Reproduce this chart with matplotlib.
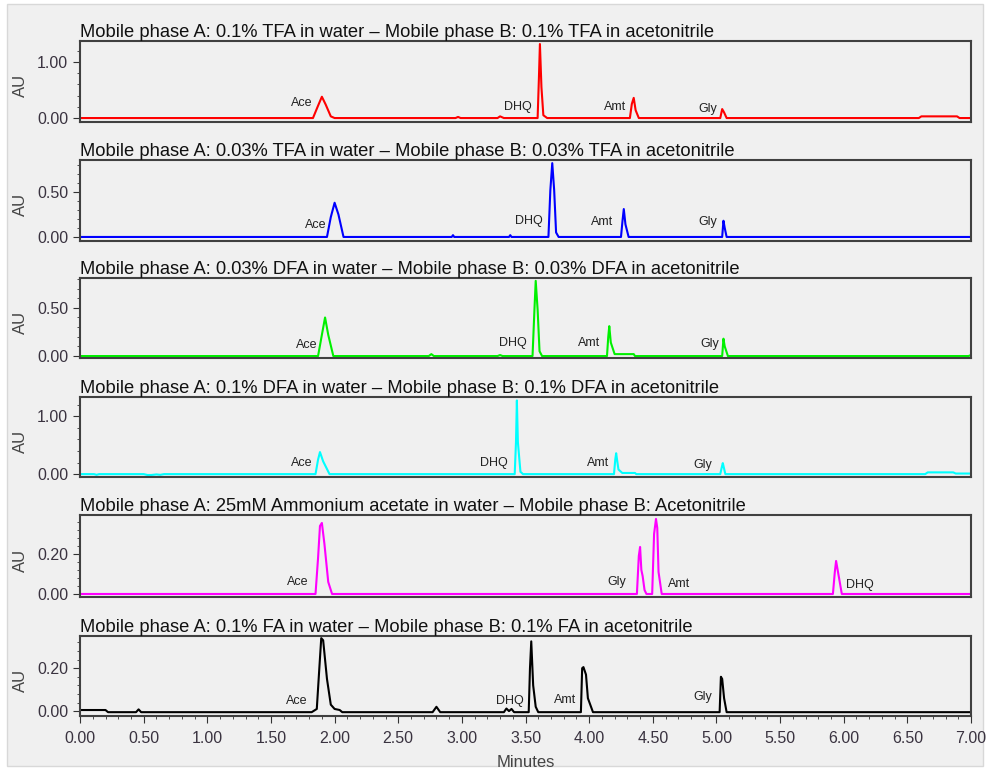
import numpy as np
import matplotlib
matplotlib.use("Agg")
import matplotlib.pyplot as plt
from matplotlib.patches import Rectangle
from matplotlib.ticker import MultipleLocator, FormatStrFormatter

plt.rcParams['font.family'] = ['Liberation Sans', 'DejaVu Sans']

# run conditions (panel titles)
titles = [
    "Mobile phase A: 0.1% TFA in water \u2013 Mobile phase B: 0.1% TFA in acetonitrile",
    "Mobile phase A: 0.03% TFA in water \u2013 Mobile phase B: 0.03% TFA in acetonitrile",
    "Mobile phase A: 0.03% DFA in water \u2013 Mobile phase B: 0.03% DFA in acetonitrile",
    "Mobile phase A: 0.1% DFA in water \u2013 Mobile phase B: 0.1% DFA in acetonitrile",
    "Mobile phase A: 25mM Ammonium acetate in water \u2013 Mobile phase B: Acetonitrile",
    "Mobile phase A: 0.1% FA in water \u2013 Mobile phase B: 0.1% FA in acetonitrile",
]
colors = ['#ff0000', '#0000ff', '#00f000', '#00ffff', '#ff00ff', '#000000']

# traces: retention time (min) / absorbance (AU) vertices
t_tfa01 = [0, 1.83, 1.87, 1.90, 1.93, 1.97, 2.0, 2.95, 2.97, 2.99, 3.28, 3.30, 3.33, 3.595,
           3.605, 3.613, 3.625, 3.64, 3.67, 4.32, 4.335, 4.35, 4.365, 4.39, 5.03, 5.045, 5.06,
           5.08, 6.59, 6.61, 6.89, 6.91, 7.0]
au_tfa01 = [0, 0, 0.22, 0.38, 0.24, 0.03, 0, 0, 0.02, 0, 0, 0.03, 0, 0,
            0.7, 1.32, 0.55, 0.05, 0, 0, 0.25, 0.36, 0.14, 0, 0, 0.16, 0.10,
            0, 0, 0.03, 0.03, 0, 0]

t_tfa003 = [0, 1.94, 1.97, 2.0, 2.03, 2.07, 2.92, 2.93, 2.94, 3.37, 3.38, 3.39, 3.68, 3.695,
            3.71, 3.725, 3.74, 3.76, 4.25, 4.262, 4.272, 4.285, 4.31, 5.045, 5.055, 5.065,
            5.08, 7.0]
au_tfa003 = [0, 0, 0.22, 0.38, 0.25, 0, 0, 0.02, 0, 0, 0.02, 0, 0, 0.52,
             0.82, 0.52, 0.05, 0, 0, 0.18, 0.31, 0.14, 0, 0, 0.18, 0.10,
             0, 0]

t_dfa003 = [0, 1.87, 1.90, 1.925, 1.95, 1.99, 2.74, 2.76, 2.78, 3.28, 3.30, 3.32, 3.555, 3.57,
            3.58, 3.595, 3.61, 3.63, 4.14, 4.15, 4.158, 4.17, 4.20, 4.35, 4.36, 5.045, 5.055,
            5.065, 5.09, 6.98, 7.0]
au_dfa003 = [0, 0, 0.22, 0.40, 0.22, 0, 0, 0.02, 0, 0, 0.01, 0, 0, 0.48,
             0.78, 0.48, 0.05, 0, 0, 0.2, 0.31, 0.14, 0.02, 0.02, 0, 0, 0.18,
             0.10, 0, 0, 0.01]

t_dfa01 = [0, 0.11, 0.13, 0.15, 0.50, 0.53, 0.56, 0.60, 0.63, 0.66, 1.85, 1.87, 1.885, 1.91,
           1.96, 3.415, 3.425, 3.432, 3.44, 3.46, 3.48, 4.195, 4.205, 4.212, 4.23, 4.26,
           4.36, 4.37, 5.03, 5.042, 5.05, 5.07, 6.64, 6.66, 6.86, 6.88, 7.0]
au_dfa01 = [0, 0, -0.012, 0, 0, -0.015, -0.015, -0.005, -0.012, 0, 0, 0.25, 0.38, 0.22,
            0, 0, 0.55, 1.27, 0.55, 0.04, 0, 0, 0.25, 0.36, 0.08, 0.02,
            0.02, 0, 0, 0.12, 0.19, 0, 0, 0.03, 0.03, 0.01, 0.01]

t_amac = [0, 1.85, 1.87, 1.885, 1.90, 1.92, 1.95, 1.98, 4.375, 4.39, 4.40, 4.41, 4.42, 4.435,
          4.45, 4.495, 4.51, 4.525, 4.535, 4.545, 4.57, 5.915, 5.93, 5.94, 5.955, 5.985, 7.0]
au_amac = [0, 0, 0.18, 0.34, 0.355, 0.25, 0.06, 0, 0, 0.19, 0.235, 0.12, 0.09, 0.02,
           0, 0, 0.3, 0.375, 0.33, 0.11, 0, 0, 0.11, 0.165, 0.11, 0, 0]

t_fa01 = [0, 0.20, 0.22, 0.44, 0.46, 0.48, 1.82, 1.86, 1.88, 1.895, 1.91, 1.94, 1.97, 2.0,
          2.04, 2.06, 2.77, 2.80, 2.83, 3.33, 3.35, 3.37, 3.39, 3.41, 3.525, 3.535, 3.545,
          3.56, 3.58, 3.60, 3.935, 3.945, 3.955, 3.975, 3.99, 4.03, 5.025, 5.035, 5.045,
          5.06, 5.08, 7.0]
au_fa01 = [0.005, 0.005, -0.005, -0.005, 0.008, -0.005, -0.005, 0.01, 0.2, 0.34, 0.33, 0.15,
           0.03, 0.01, 0.005, -0.005, -0.005, 0.02, -0.005, -0.005, 0.012, 0.0, 0.01, -0.005,
           -0.005, 0.2, 0.325, 0.12, 0.02, -0.005, -0.005, 0.2, 0.205, 0.17, 0.06, -0.005,
           -0.005, 0.16, 0.15, 0.06, -0.005, -0.005]

traces = [(t_tfa01, au_tfa01), (t_tfa003, au_tfa003), (t_dfa003, au_dfa003),
          (t_dfa01, au_dfa01), (t_amac, au_amac), (t_fa01, au_fa01)]

# peak labels: name, x, y (data units)
labels = [
    [("Ace", 1.74, 0.26), ("DHQ", 3.44, 0.2), ("Amt", 4.2, 0.19), ("Gly", 4.93, 0.17)],
    [("Ace", 1.85, 0.13), ("DHQ", 3.53, 0.18), ("Amt", 4.1, 0.17), ("Gly", 4.93, 0.17)],
    [("Ace", 1.78, 0.11), ("DHQ", 3.4, 0.14), ("Amt", 4.0, 0.14), ("Gly", 4.95, 0.12)],
    [("Ace", 1.74, 0.19), ("DHQ", 3.25, 0.19), ("Amt", 4.07, 0.19), ("Gly", 4.89, 0.16)],
    [("Ace", 1.71, 0.06), ("Gly", 4.22, 0.06), ("Amt", 4.71, 0.05), ("DHQ", 6.13, 0.045)],
    [("Ace", 1.70, 0.045), ("DHQ", 3.38, 0.045), ("Amt", 3.81, 0.05), ("Gly", 4.89, 0.065)],
]

ylims = [(-0.07, 1.375), (-0.045, 0.855), (-0.02, 0.81), (-0.05, 1.33), (-0.015, 0.395), (-0.023, 0.35)]
ymajor = [1.0, 0.5, 0.5, 1.0, 0.2, 0.2]
yminor = [0.2, 0.1, 0.1, 0.2, 0.04, 0.04]

# axes boxes in figure fraction
boxes = [(0.0811, 0.8418, 0.9027, 0.1051), (0.0811, 0.6874, 0.9027, 0.1051),
         (0.0811, 0.5357, 0.9027, 0.1038), (0.0811, 0.3813, 0.9027, 0.1038),
         (0.0811, 0.2257, 0.9027, 0.1064), (0.0811, 0.0713, 0.9027, 0.1038)]

bg = '#f0f0f0'
fig = plt.figure(figsize=(9.87, 7.71), dpi=100, facecolor='white')
fig.patches.append(Rectangle((7 / 987, 5 / 771), 976 / 987, 762 / 771, transform=fig.transFigure,
                             facecolor=bg, edgecolor='#d8d8d8', lw=1, zorder=-10))

for i in range(6):
    ax = fig.add_axes(boxes[i])
    ax.set_facecolor(bg)
    t, au = traces[i]
    ax.plot(t, au, color=colors[i], lw=1.5)
    for name, x, y in labels[i]:
        ax.text(x, y, name, fontsize=9, ha='center', va='center', color='#222222')
    ax.set_xlim(0, 7)
    ax.set_ylim(*ylims[i])
    ax.set_title(titles[i], loc='left', fontsize=13.2, pad=2, color='#111111')
    ax.set_ylabel("AU", fontsize=12, color='#444444')
    ax.yaxis.set_label_coords(-0.058, 0.45)
    ax.yaxis.set_major_locator(MultipleLocator(ymajor[i]))
    ax.yaxis.set_minor_locator(MultipleLocator(yminor[i]))
    ax.yaxis.set_major_formatter(FormatStrFormatter('%.2f'))
    ax.tick_params(axis='y', which='major', length=5, labelsize=11.5, labelcolor='#3a3340', color='#333333')
    ax.tick_params(axis='y', which='minor', length=2.5, color='#333333')
    for s in ax.spines.values():
        s.set_color('#404040')
        s.set_linewidth(1.5)
    if i < 5:
        ax.tick_params(axis='x', which='both', bottom=False, labelbottom=False)
    else:
        ax.xaxis.set_major_locator(MultipleLocator(0.5))
        ax.xaxis.set_minor_locator(MultipleLocator(0.1))
        ax.xaxis.set_major_formatter(FormatStrFormatter('%.2f'))
        ax.tick_params(axis='x', which='major', length=5, pad=6, labelsize=11.5, labelcolor='#3a3340', color='#333333')
        ax.tick_params(axis='x', which='minor', length=2.5, color='#333333')
        ax.set_xlabel("Minutes", fontsize=12, color='#444444', labelpad=6)

fig.savefig("out.png", dpi=100, facecolor=fig.get_facecolor())
